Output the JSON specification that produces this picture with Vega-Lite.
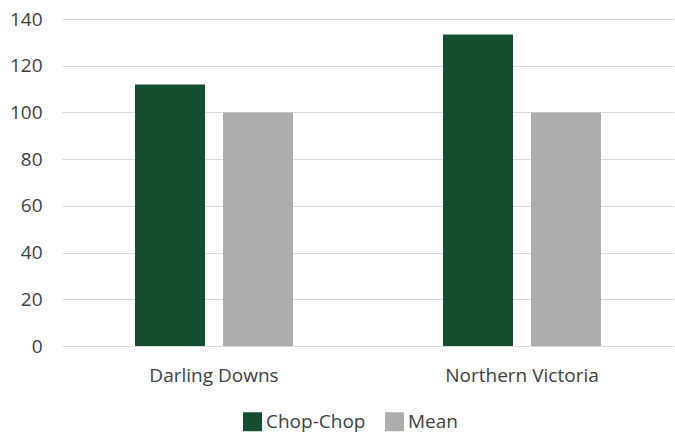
{
  "$schema": "https://vega.github.io/schema/vega-lite/v6.json",
  "width": 612,
  "height": 327,
  "autosize": {"type": "none"},
  "padding": {"left": 62, "top": 19, "right": 1, "bottom": 88},
  "background": "white",
  "data": {
    "values": [
      {"region": "Darling Downs", "series": "Chop-Chop", "value": 112},
      {"region": "Darling Downs", "series": "Mean", "value": 100},
      {"region": "Northern Victoria", "series": "Chop-Chop", "value": 133.4},
      {"region": "Northern Victoria", "series": "Mean", "value": 100}
    ]
  },
  "config": {
    "font": "Open Sans",
    "view": {"stroke": null},
    "axis": {"labelFont": "Open Sans", "labelFontSize": 19, "labelColor": "#404040"},
    "legend": {"labelFont": "Open Sans", "labelFontSize": 19, "labelColor": "#404040"}
  },
  "mark": {"type": "bar"},
  "encoding": {
    "x": {
      "field": "region",
      "type": "nominal",
      "sort": ["Darling Downs", "Northern Victoria"],
      "scale": {"paddingInner": 0.487, "paddingOuter": 0.237},
      "axis": {"title": null, "labelAngle": 0, "domain": false, "ticks": false, "labelPadding": 20, "grid": false}
    },
    "xOffset": {
      "field": "series",
      "type": "nominal",
      "sort": ["Chop-Chop", "Mean"],
      "scale": {"paddingInner": 0.2045, "paddingOuter": 0}
    },
    "y": {
      "field": "value",
      "type": "quantitative",
      "scale": {"domain": [0, 140], "nice": false},
      "axis": {"title": null, "values": [0, 20, 40, 60, 80, 100, 120, 140], "domain": false, "ticks": false, "labelPadding": 20, "gridColor": "#D9D9D9", "gridWidth": 1}
    },
    "color": {
      "field": "series",
      "type": "nominal",
      "sort": ["Chop-Chop", "Mean"],
      "scale": {"domain": ["Chop-Chop", "Mean"], "range": ["#134F2E", "#ADADAB"]},
      "legend": {"title": null, "orient": "none", "legendX": 181, "legendY": 393, "padding": 0, "direction": "horizontal", "symbolType": "square", "symbolSize": 361, "symbolStrokeWidth": 0, "symbolOpacity": 1, "columnPadding": 19, "labelOffset": 4}
    }
  }
}
